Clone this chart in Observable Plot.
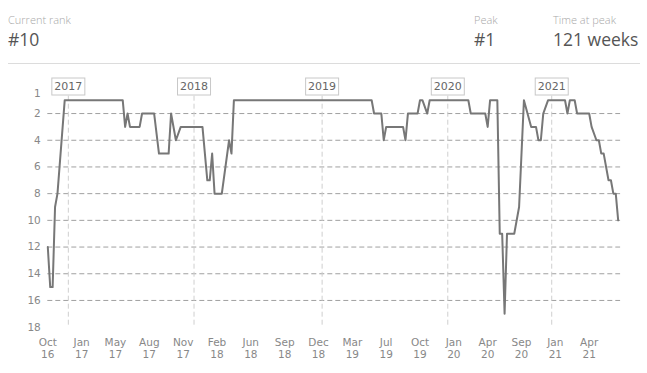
<!DOCTYPE html>
<html>
<head>
<meta charset="utf-8">
<script src="https://cdn.jsdelivr.net/npm/d3@7"></script>
<script src="https://cdn.jsdelivr.net/npm/@observablehq/plot@0.6"></script>
<style>
  body { margin: 0; background: #fff; font-family: "Open Sans", sans-serif; }
  #wrap { position: relative; width: 647px; height: 373px; overflow: hidden; }
  .blk { position: absolute; top: 13px; }
  .lab { font-size: 11px; color: #a8a8a8; font-weight: 300; line-height: 14px; }
  .val { font-size: 17.5px; color: #555; font-weight: 400; line-height: 24px; margin-top: 0px; }
  #sep { position: absolute; left: 8px; top: 63px; width: 632px; height: 1px; background: #dcdcdc; }
  #chart { position: absolute; left: 0; top: 70px; }
</style>
</head>
<body>
<div id="wrap">
  <div class="blk" style="left:8px"><div class="lab">Current rank</div><div class="val">#10</div></div>
  <div class="blk" style="left:474px"><div class="lab">Peak</div><div class="val">#1</div></div>
  <div class="blk" style="left:553px"><div class="lab">Time at peak</div><div class="val">121 weeks</div></div>
  <div id="sep"></div>
  <div id="chart"></div>
</div>
<script>
// Chart week index (vertices of the rank line) and the rank at each
const weeks = [0,1,2,3,4,7,
  31,32,33,34,38,39,44,46,50,51,53,55,
  64,66,67,68,69,72,75,76,77,
  134,135,138,139,140,147,148,149,153,154,155,157,158,
  174,175,181,182,183,186,187,188,189,190,193,195,197,
  200,202,203,204,205,207,
  214,215,216,218,219,224,225,227,228,229,230,232,233,234,235,236];
const ranks = [12,15,15,9,8,1,
  1,3,2,3,3,2,2,5,5,2,4,3,
  3,7,7,5,8,8,4,5,1,
  1,2,2,4,3,3,4,2,2,1,1,2,1,
  1,2,2,3,1,1,11,11,17,11,11,9,1,
  3,3,4,4,2,1,
  1,2,1,1,2,2,3,4,4,5,5,7,7,8,8,10];

// x tick weeks and labels
const tickWeeks = [0,14,28,42,56,70,84,98,112,126,140,154,168,182,196,210,224];
const tickLabels = ["Oct\n16","Jan\n17","May\n17","Aug\n17","Nov\n17","Feb\n18","Jun\n18","Sep\n18",
  "Dec\n18","Mar\n19","Jul\n19","Oct\n19","Jan\n20","Apr\n20","Sep\n20","Jan\n21","Apr\n21"];

// year boundaries (week index) and labels
const yearStarts = [8.5, 60.5, 113.5, 165.5, 208.5];
const yearLabels = ["2017","2018","2019","2020","2021"];

// y axis ticks and grid lines
const yTopTick = [1];
const yTicks = [2,4,6,8,10,12,14,16,18];
const gridRanks = [2,4,6,8,10,12,14,16];

const data = weeks.map((w, i) => ({week: w, rank: ranks[i]}));
const labelMap = new Map(tickWeeks.map((w, i) => [w, tickLabels[i]]));
const yearMap = new Map(yearStarts.map((w, i) => [w, yearLabels[i]]));

const chart = Plot.plot({
  width: 647,
  height: 303,
  marginLeft: 47.3,
  marginRight: 26.9,
  marginTop: 29.7,
  marginBottom: 46.35,
  x: {domain: [0, 237]},
  y: {domain: [1, 18], reverse: true},
  style: {fontFamily: "DejaVu Sans, Verdana, sans-serif", fontSize: "10.5px", color: "#888", background: "#fff", overflow: "visible"},
  marks: [
    Plot.ruleY(gridRanks, {stroke: "#a0a0a0", strokeDasharray: "5,3", strokeWidth: 1}),
    Plot.ruleX(yearStarts, {stroke: "#cfcfcf", strokeDasharray: "5,3", strokeWidth: 1, insetTop: -12}),
    Plot.line(data, {x: "week", y: "rank", stroke: "#777", strokeWidth: 2}),
    Plot.axisY(yTopTick, {tickSize: 0, tickPadding: 7, dy: -7, fill: "#888", label: null}),
    Plot.axisY(yTicks, {tickSize: 0, tickPadding: 7, fill: "#888", label: null}),
    Plot.axisX(tickWeeks, {tickSize: 0, tickPadding: 10, fill: "#888", label: null, lineHeight: 1.15,
      tickFormat: d => labelMap.get(d)}),
    Plot.text(yearStarts, {x: d => d, frameAnchor: "top", dy: -18, text: d => yearMap.get(d),
      fill: "#666", fontSize: 11})
  ]
});
document.getElementById("chart").appendChild(chart);

// boxes behind the year labels
const yearSet = new Set(yearLabels);
d3.select(chart).selectAll("text").filter(function () { return yearSet.has(this.textContent); }).each(function () {
  const b = this.getBBox();
  const rect = d3.select(this.parentNode).insert("rect", () => this)
    .attr("x", b.x - 2.5).attr("y", b.y - 2)
    .attr("width", b.width + 5).attr("height", b.height + 4)
    .attr("fill", "#fff").attr("stroke", "#c8c8c8").attr("stroke-width", 1);
  const t = this.getAttribute("transform");
  if (t) rect.attr("transform", t);
});
</script>
</body>
</html>
